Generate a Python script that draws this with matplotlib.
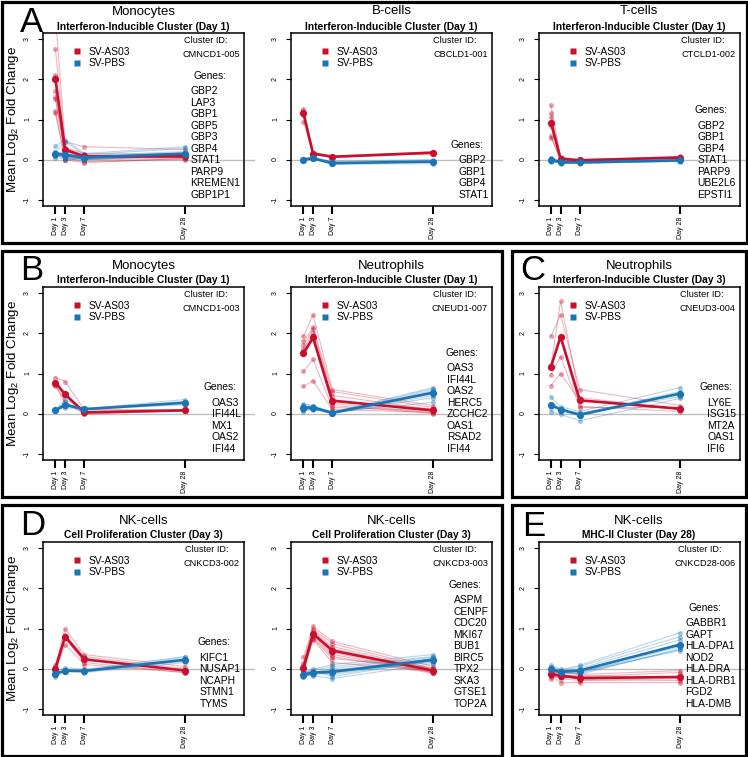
import matplotlib
matplotlib.use('Agg')
import matplotlib.pyplot as plt
from matplotlib.patches import Rectangle

plt.rcParams['font.family'] = ['Liberation Sans', 'DejaVu Sans']
plt.rcParams['mathtext.fontset'] = 'custom'
plt.rcParams['mathtext.rm'] = 'Liberation Sans'
plt.rcParams['mathtext.it'] = 'Liberation Sans:italic'
plt.rcParams['mathtext.bf'] = 'Liberation Sans:bold'

# ---------------- data ----------------
days = [1, 3, 7, 28]
day_labels = ['Day 1', 'Day 3', 'Day 7', 'Day 28']
group_names = ['SV-AS03', 'SV-PBS']

# A - Monocytes CMNCD1-005
a1_genes = ['GBP2', 'LAP3', 'GBP1', 'GBP5', 'GBP3', 'GBP4', 'STAT1', 'PARP9', 'KREMEN1', 'GBP1P1']
a1_red = [[3.6, 0.45, 0.32, 0.25], [2.75, 0.3, 0.15, 0.12], [2.1, 0.28, 0.1, 0.08],
          [2.05, 0.22, 0.08, 0.05], [1.7, 0.2, 0.05, 0.1], [1.55, 0.15, 0.03, 0.05],
          [1.5, 0.1, 0.0, 0.02], [1.2, 0.05, -0.05, 0.0], [1.15, 0.0, -0.08, 0.03],
          [2.0, -0.02, 0.05, 0.1]]
a1_blue = [[0.33, 0.5, 0.15, 0.32], [0.2, 0.45, 0.12, 0.28], [0.15, 0.2, 0.1, 0.2],
           [0.12, 0.1, 0.05, 0.15], [0.1, 0.08, 0.03, 0.12], [0.15, 0.05, 0.0, 0.1],
           [0.05, 0.02, 0.05, 0.08], [0.18, 0.0, 0.02, 0.1], [0.1, 0.05, 0.08, 0.05],
           [0.12, 0.1, 0.0, 0.1]]
a1_red_mean = [2.0, 0.25, 0.08, 0.08]
a1_blue_mean = [0.15, 0.12, 0.05, 0.15]

# A - B-cells CBCLD1-001
a2_genes = ['GBP2', 'GBP1', 'GBP4', 'STAT1']
a2_red = [[1.27, 0.17, 0.08, 0.2], [1.22, 0.15, 0.07, 0.18],
          [1.1, 0.14, 0.06, 0.16], [0.95, 0.12, 0.05, 0.15]]
a2_blue = [[0.02, 0.06, -0.05, 0.0], [0.0, 0.03, -0.08, -0.05],
           [-0.02, 0.02, -0.12, -0.1], [0.0, 0.04, -0.1, -0.06]]
a2_red_mean = [1.15, 0.15, 0.07, 0.17]
a2_blue_mean = [0.0, 0.03, -0.09, -0.05]

# A - T-cells CTCLD1-002
a3_genes = ['GBP2', 'GBP1', 'GBP4', 'STAT1', 'PARP9', 'UBE2L6', 'EPSTI1']
a3_red = [[1.35, 0.06, 0.0, 0.08], [1.15, 0.04, -0.02, 0.06], [1.05, 0.02, -0.03, 0.05],
          [0.9, 0.0, 0.0, 0.04], [0.85, 0.03, -0.01, 0.06], [0.6, -0.01, -0.04, 0.03],
          [0.55, 0.0, -0.02, 0.05]]
a3_blue = [[0.05, -0.04, -0.05, 0.0], [0.02, -0.06, -0.07, -0.02], [0.0, -0.1, -0.1, -0.04],
           [-0.03, -0.08, -0.06, -0.03], [0.03, -0.05, -0.08, -0.01], [-0.05, -0.09, -0.09, -0.05],
           [0.0, -0.07, -0.04, -0.02]]
a3_red_mean = [0.92, 0.02, -0.02, 0.05]
a3_blue_mean = [0.0, -0.07, -0.07, -0.02]

# B - Monocytes CMNCD1-003
b1_genes = ['OAS3', 'IFI44L', 'MX1', 'OAS2', 'IFI44']
b1_red = [[0.9, 0.8, 0.1, 0.1], [0.8, 0.5, 0.05, 0.08], [0.75, 0.45, 0.0, 0.06],
          [0.72, 0.3, -0.02, 0.08], [0.7, 0.25, 0.02, 0.07]]
b1_blue = [[0.1, 0.35, 0.12, 0.35], [0.08, 0.25, 0.1, 0.3], [0.07, 0.2, 0.11, 0.25],
           [0.09, 0.15, 0.1, 0.22], [0.06, 0.18, 0.12, 0.27]]
b1_red_mean = [0.77, 0.48, 0.03, 0.08]
b1_blue_mean = [0.08, 0.22, 0.11, 0.27]

# B - Neutrophils CNEUD1-007
b2_genes = ['OAS3', 'IFI44L', 'OAS2', 'HERC5', 'ZCCHC2', 'OAS1', 'RSAD2', 'IFI44']
b2_red = [[1.93, 2.47, 0.6, 0.2], [1.8, 2.15, 0.55, 0.15], [1.7, 2.1, 0.45, 0.1],
          [1.62, 2.0, 0.35, 0.05], [1.55, 1.9, 0.25, 0.02], [1.5, 1.85, 0.2, 0.0],
          [1.05, 1.35, 0.15, 0.08], [0.68, 0.82, 0.1, 0.03]]
b2_blue = [[0.25, 0.2, 0.03, 0.65], [0.22, 0.18, 0.02, 0.62], [0.18, 0.15, 0.01, 0.58],
           [0.15, 0.12, 0.0, 0.55], [0.12, 0.15, 0.02, 0.5], [0.1, 0.1, 0.01, 0.45],
           [0.08, 0.12, 0.0, 0.4], [0.05, 0.13, 0.03, 0.28]]
b2_red_mean = [1.5, 1.9, 0.32, 0.08]
b2_blue_mean = [0.15, 0.15, 0.02, 0.52]

# C - Neutrophils CNEUD3-004
c1_genes = ['LY6E', 'ISG15', 'MT2A', 'OAS1', 'IFI6']
c1_red = [[1.93, 2.47, 0.6, 0.2], [1.2, 2.8, 0.4, 0.1], [1.15, 1.9, 0.18, 0.05],
          [0.97, 1.42, 0.15, 0.15], [0.7, 1.0, 0.33, 0.1]]
c1_blue = [[0.42, 0.17, 0.05, 0.65], [0.25, 0.12, 0.0, 0.55], [0.2, 0.1, -0.02, 0.5],
           [0.15, 0.1, 0.0, 0.42], [0.05, -0.02, -0.18, 0.38]]
c1_red_mean = [1.17, 1.92, 0.33, 0.12]
c1_blue_mean = [0.22, 0.1, -0.03, 0.5]

# D - NK-cells CNKCD3-002
d1_genes = ['KIFC1', 'NUSAP1', 'NCAPH', 'STMN1', 'TYMS']
d1_red = [[0.1, 1.0, 0.35, 0.05], [0.05, 0.85, 0.3, 0.0], [0.0, 0.8, 0.25, -0.05],
          [-0.05, 0.75, 0.15, -0.1], [-0.1, 0.6, 0.1, -0.1]]
d1_blue = [[-0.08, 0.02, -0.02, 0.3], [-0.1, -0.05, -0.05, 0.28], [-0.12, -0.05, -0.08, 0.2],
           [-0.15, -0.08, -0.1, 0.15], [-0.2, -0.08, -0.05, 0.18]]
d1_red_mean = [0.0, 0.8, 0.23, -0.05]
d1_blue_mean = [-0.13, -0.05, -0.06, 0.22]

# D - NK-cells CNKCD3-003
d2_genes = ['ASPM', 'CENPF', 'CDC20', 'MKI67', 'BUB1', 'BIRC5', 'TPX2', 'SKA3', 'GTSE1', 'TOP2A']
d2_red = [[0.28, 1.05, 0.68, 0.05], [0.15, 1.0, 0.62, 0.0], [0.1, 0.95, 0.55, -0.02],
          [0.05, 0.9, 0.5, -0.05], [0.0, 0.88, 0.45, -0.08], [-0.02, 0.85, 0.4, -0.1],
          [-0.05, 0.82, 0.35, -0.1], [-0.1, 0.78, 0.3, -0.12], [-0.1, 0.75, 0.25, 0.02],
          [0.0, 0.72, 0.15, -0.05]]
d2_blue = [[-0.1, -0.02, 0.1, 0.35], [-0.12, -0.05, 0.05, 0.3], [-0.15, -0.1, 0.0, 0.28],
           [-0.18, -0.12, -0.05, 0.25], [-0.2, -0.15, -0.1, 0.22], [-0.22, -0.1, -0.12, 0.2],
           [-0.12, -0.08, -0.15, 0.18], [-0.15, -0.12, -0.08, 0.15], [-0.18, -0.18, -0.25, 0.12],
           [-0.1, -0.05, -0.2, 0.2]]
d2_red_mean = [0.02, 0.87, 0.45, -0.05]
d2_blue_mean = [-0.15, -0.1, -0.08, 0.22]

# E - NK-cells CNKCD28-006
e1_genes = ['GABBR1', 'GAPT', 'HLA-DPA1', 'NOD2', 'HLA-DRA', 'HLA-DRB1', 'FGD2', 'HLA-DMB']
e1_red = [[-0.05, -0.1, -0.15, -0.05], [-0.1, -0.15, -0.2, -0.1], [-0.12, -0.2, -0.25, -0.2],
          [-0.15, -0.25, -0.3, -0.25], [-0.18, -0.35, -0.35, -0.35], [-0.2, -0.15, -0.22, -0.2],
          [-0.25, -0.18, -0.18, -0.22], [-0.08, -0.12, -0.28, -0.3]]
e1_blue = [[0.08, -0.02, 0.08, 0.9], [0.05, -0.05, 0.05, 0.8], [0.0, -0.08, 0.0, 0.72],
           [-0.05, -0.1, -0.05, 0.62], [-0.1, -0.12, -0.1, 0.55], [-0.02, -0.05, -0.15, 0.5],
           [0.02, -0.08, -0.08, 0.45], [-0.08, -0.1, -0.12, 0.48]]
e1_red_mean = [-0.14, -0.18, -0.24, -0.21]
e1_blue_mean = [-0.02, -0.08, -0.05, 0.6]

# ---------------- layout ----------------
W, H = 748, 757
RED = '#C8102E'
BLUE = '#1B74B4'

fig = plt.figure(figsize=(W / 100, H / 100), dpi=100)
renderer = fig.canvas.get_renderer()


def fx(x):
    return x / W


def fy(y):
    return 1 - y / H


def text_width(s, size, weight='normal'):
    t = fig.text(0, 0, s, fontsize=size, fontweight=weight)
    w = t.get_window_extent(renderer).width
    t.remove()
    return w


COL_LEFT = [43, 291, 538.5]
ROW_TOP = [33, 287, 542]
AX_W, AX_H = 201, 173
XLIM = (-1.6, 40.3)
YLIM = (-1.16, 3.16)

panels = [
    (0, 0, 'Monocytes', 'Interferon-Inducible Cluster (Day 1)', 'CMNCD1-005', a1_genes, a1_red, a1_blue, a1_red_mean, a1_blue_mean),
    (0, 1, 'B-cells', 'Interferon-Inducible Cluster (Day 1)', 'CBCLD1-001', a2_genes, a2_red, a2_blue, a2_red_mean, a2_blue_mean),
    (0, 2, 'T-cells', 'Interferon-Inducible Cluster (Day 1)', 'CTCLD1-002', a3_genes, a3_red, a3_blue, a3_red_mean, a3_blue_mean),
    (1, 0, 'Monocytes', 'Interferon-Inducible Cluster (Day 1)', 'CMNCD1-003', b1_genes, b1_red, b1_blue, b1_red_mean, b1_blue_mean),
    (1, 1, 'Neutrophils', 'Interferon-Inducible Cluster (Day 1)', 'CNEUD1-007', b2_genes, b2_red, b2_blue, b2_red_mean, b2_blue_mean),
    (1, 2, 'Neutrophils', 'Interferon-Inducible Cluster (Day 3)', 'CNEUD3-004', c1_genes, c1_red, c1_blue, c1_red_mean, c1_blue_mean),
    (2, 0, 'NK-cells', 'Cell Proliferation Cluster (Day 3)', 'CNKCD3-002', d1_genes, d1_red, d1_blue, d1_red_mean, d1_blue_mean),
    (2, 1, 'NK-cells', 'Cell Proliferation Cluster (Day 3)', 'CNKCD3-003', d2_genes, d2_red, d2_blue, d2_red_mean, d2_blue_mean),
    (2, 2, 'NK-cells', 'MHC-II Cluster (Day 28)', 'CNKCD28-006', e1_genes, e1_red, e1_blue, e1_red_mean, e1_blue_mean),
]

for (r, c, cell, sub, cid, genes, red, blue, red_mean, blue_mean) in panels:
    left = COL_LEFT[c]
    top = ROW_TOP[r]
    right = left + AX_W
    bottom = top + AX_H
    ax = fig.add_axes([fx(left), fy(bottom), AX_W / W, AX_H / H])
    ax.set_xlim(*XLIM)
    ax.set_ylim(*YLIM)
    # zero line
    ax.plot([XLIM[0], 42.4], [0, 0], color='#BEBEBE', lw=1.0, clip_on=False, zorder=1)
    for g in red:
        ax.plot(days, g, color=RED, alpha=0.3, lw=0.8, zorder=2)
        ax.plot(days, g, 'o', color=RED, alpha=0.4, ms=3.6, mec='none', zorder=2)
    for g in blue:
        ax.plot(days, g, color=BLUE, alpha=0.3, lw=0.8, zorder=2)
        ax.plot(days, g, 'o', color=BLUE, alpha=0.4, ms=3.6, mec='none', zorder=2)
    ax.plot(days, red_mean, '-o', color=RED, lw=1.9, ms=5.2, mec='none', zorder=3)
    ax.plot(days, blue_mean, '-o', color=BLUE, lw=1.9, ms=5.2, mec='none', zorder=4)

    ax.set_yticks([-1, 0, 1, 2, 3])
    ax.set_yticklabels(['-1', '0', '1', '2', '3'])
    ax.set_xticks(days)
    ax.set_xticklabels(day_labels)
    ax.tick_params(axis='y', length=3.6, width=0.8, pad=5, labelsize=5, labelrotation=90)
    ax.tick_params(axis='x', length=5.8, width=1.5, pad=2, labelsize=5, labelrotation=90)
    for sp in ax.spines.values():
        sp.set_linewidth(1.1)

    cx = (left + right) / 2
    fig.text(fx(cx), fy(top - 18.5), cell, fontsize=9.5, ha='center', va='baseline')
    fig.text(fx(cx), fy(top - 3.5), sub, fontsize=7.4, fontweight='bold', ha='center', va='baseline')

    # legend
    for i, (name, col) in enumerate(zip(group_names, [RED, BLUE])):
        yy = top + 18 + i * 11.6
        ax.plot([fx(left + 34)], [fy(yy)], 's', color=col, ms=3.8, mec='none',
                transform=fig.transFigure, clip_on=False, zorder=5)
        fig.text(fx(left + 46), fy(yy + 3.8), name, fontsize=7.4, ha='left', va='baseline')

    # cluster id
    idw = text_width(cid, 6.6)
    id_right = right - 4
    id_center = id_right - idw / 2
    fig.text(fx(id_right), fy(top + 23.6), cid, fontsize=6.6, ha='right', va='baseline')
    fig.text(fx(id_center - 5.5), fy(top + 10.3), 'Cluster ID:', fontsize=6.6, ha='center', va='baseline')

    # genes
    gw = max(text_width(g, 7.4) for g in genes)
    g_right = right - 3.5
    g_left = g_right - gw
    n = len(genes)
    last_base = bottom - 8.3
    first_base = last_base - (n - 1) * 11.5
    for i, g in enumerate(genes):
        fig.text(fx(g_left), fy(first_base + i * 11.5), g, fontsize=7.4, ha='left', va='baseline', zorder=6)
    fig.text(fx((g_left + g_right) / 2 - 6), fy(first_base - 15.3), 'Genes:', fontsize=7.4,
             ha='center', va='baseline')

    if c == 0:
        fig.text(fx(13.5), fy(top + AX_H / 2), 'Mean Log$_\\mathregular{2}$ Fold Change', fontsize=9.6,
                 rotation=90, ha='center', va='center')

# panel letters
for letter, x, base in [('A', 20, 32), ('B', 20, 280), ('C', 520, 280), ('D', 20, 535), ('E', 522, 536)]:
    fig.text(fx(x), fy(base), letter, fontsize=25, ha='left', va='baseline')

# boxes
boxes = [(1.5, 1.5, 746.5, 242.5), (1.5, 251, 502, 497), (512, 251, 746.5, 497),
         (1.5, 505, 502, 755.5), (512, 505, 746.5, 755.5)]
for (x0, y0, x1, y1) in boxes:
    fig.patches.append(Rectangle((fx(x0), fy(y1)), (x1 - x0) / W, (y1 - y0) / H, fill=False,
                                 lw=2.3, ec='black', transform=fig.transFigure, figure=fig))

fig.savefig('out.png', dpi=100)
